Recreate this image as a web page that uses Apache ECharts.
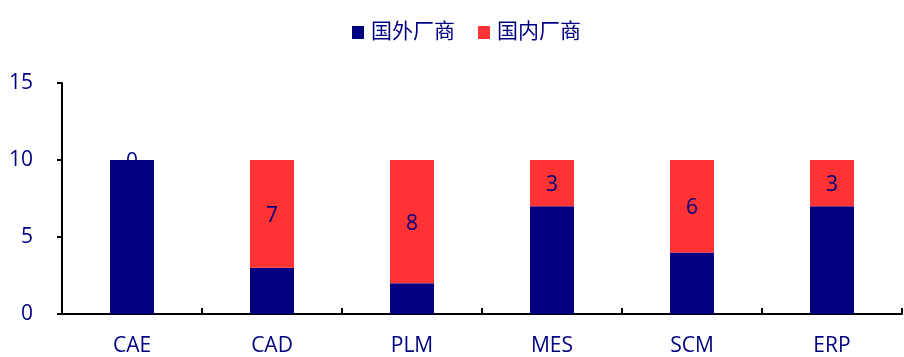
<!DOCTYPE html>
<html>
<head>
<meta charset="utf-8">
<script src="https://cdn.jsdelivr.net/npm/echarts@6/dist/echarts.min.js"></script>
<style>
  html, body { margin: 0; padding: 0; background: #fff; }
  #chart { width: 904px; height: 357px; }
</style>
</head>
<body>
<div id="chart"></div>
<script>
// Software categories and vendor counts (foreign vs domestic)
var categories = ['CAE', 'CAD', 'PLM', 'MES', 'SCM', 'ERP'];
var foreignVendors = [10, 3, 2, 7, 4, 7];
var domesticVendors = [0, 7, 8, 3, 6, 3];
var seriesNames = ['国外厂商', '国内厂商'];

var NAVY = '#000080';
var RED = '#FF3333';
var FONT = '"Open Sans", "Noto Sans CJK SC", sans-serif';

var chart = echarts.init(document.getElementById('chart'), null, { renderer: 'canvas' });

chart.setOption({
  animation: false,
  textStyle: { fontFamily: FONT },
  legend: {
    data: seriesNames,
    top: 22,
    left: 352,
    padding: 0,
    itemWidth: 12,
    itemHeight: 13,
    itemGap: 23,
    icon: 'rect',
    textStyle: { color: NAVY, fontSize: 21, fontFamily: FONT, padding: [0, 0, 0, 2] }
  },
  grid: { left: 62, right: 2, top: 83, bottom: 43 },
  xAxis: {
    type: 'category',
    data: categories,
    axisLine: { lineStyle: { color: '#000', width: 2 } },
    axisTick: { show: true, inside: true, length: 6, lineStyle: { color: '#000', width: 2 } },
    axisLabel: { color: NAVY, fontSize: 21, margin: 22, fontFamily: FONT }
  },
  yAxis: {
    type: 'value',
    min: 0,
    max: 15,
    interval: 5,
    splitLine: { show: false },
    axisLine: { show: true, lineStyle: { color: '#000', width: 2 } },
    axisTick: { show: true, length: 5, lineStyle: { color: '#000', width: 2 } },
    axisLabel: { color: NAVY, fontSize: 21, margin: 29, fontFamily: FONT }
  },
  series: [
    {
      name: seriesNames[0],
      type: 'bar',
      stack: 'total',
      barWidth: 44,
      data: foreignVendors,
      itemStyle: { color: NAVY }
    },
    {
      name: seriesNames[1],
      type: 'bar',
      stack: 'total',
      barWidth: 44,
      data: domesticVendors,
      itemStyle: { color: RED },
      label: {
        show: true,
        position: 'inside',
        offset: [0, 2],
        color: NAVY,
        fontSize: 21,
        fontFamily: FONT
      }
    }
  ]
});
</script>
</body>
</html>
